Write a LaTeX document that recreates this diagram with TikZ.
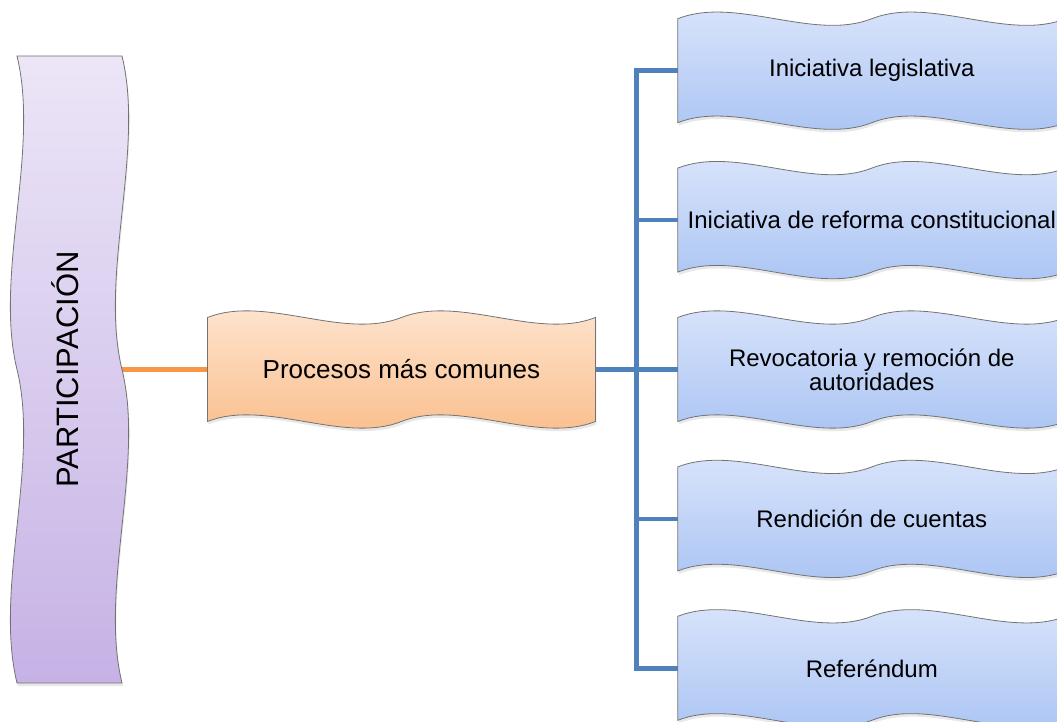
\documentclass[tikz,border=0pt]{standalone}
\usepackage{fontspec}
\setmainfont{Liberation Sans}
\usetikzlibrary{positioning,shadows,calc}

\definecolor{purtop}{HTML}{ECE6F7}
\definecolor{purbot}{HTML}{C6B2E5}
\definecolor{orgtop}{HTML}{FEE7D4}
\definecolor{orgbot}{HTML}{FABC88}
\definecolor{blutop}{HTML}{DCE6FB}
\definecolor{blubot}{HTML}{A7C2F3}
\definecolor{bluline}{HTML}{4F81BD}
\definecolor{orgline}{HTML}{F79646}

\pgfdeclarelayer{linelayer}
\pgfdeclarelayer{wavelayer}
\pgfsetlayers{linelayer,wavelayer,main}

\tikzset{
  wavetext/.style={inner sep=0pt, align=center, text=black},
  partbox/.style={wavetext, minimum width=105pt, minimum height=627pt,
    font=\fontsize{31}{36}\selectfont},
  procbox/.style={wavetext, minimum width=388pt, minimum height=104pt,
    font=\fontsize{26}{30}\selectfont},
  itembox/.style={wavetext, minimum width=388pt, minimum height=104pt,
    font=\fontsize{24}{24}\selectfont},
  waveline/.style={draw=black!55, line width=0.8pt,
    drop shadow={opacity=0.18, shadow xshift=1pt, shadow yshift=-3pt}},
  conn/.style={line width=4.5pt},
}

% horizontal double wave round a node: node, top colour, bottom colour
\newcommand{\hwave}[3]{%
  \begin{scope}[shift={(#1.center)}]
    \path[waveline, top color=#2, bottom color=#3]
      (-194,52) .. controls (-136,75) and (-58,29) .. (0,52)
      .. controls (58,75) and (136,29) .. (194,52)
      -- (194,-52)
      .. controls (136,-75) and (58,-29) .. (0,-52)
      .. controls (-58,-75) and (-136,-29) .. (-194,-52) -- cycle;
  \end{scope}}

% vertical double wave round a node
\newcommand{\vwave}[3]{%
  \begin{scope}[shift={(#1.center)}]
    \path[waveline, top color=#2, bottom color=#3]
      (-52.5,313.5) .. controls (-29.5,219.5) and (-75.5,94) .. (-52.5,0)
      .. controls (-29.5,-94) and (-75.5,-219.5) .. (-52.5,-313.5)
      -- (52.5,-313.5)
      .. controls (29.5,-219.5) and (75.5,-94) .. (52.5,0)
      .. controls (29.5,94) and (75.5,219.5) .. (52.5,313.5) -- cycle;
  \end{scope}}

\begin{document}
\begin{tikzpicture}[x=1pt,y=1pt]

  \useasboundingbox (0,0) rectangle (1057,721);

  % Nodes

  \node[partbox] (part) at (69.5,351.5)
    {\rotatebox{90}{\smash{\raisebox{-8.5pt}{PARTICIPACIÓN}}}} ; %
  \node[procbox, right=of part, right=85pt of part] (proc) {Procesos más comunes} ; %
  \node[itembox, right=of proc, right=82pt of proc] (revoc)
    {Revocatoria y remoción de\\autoridades} ; %
  \node[itembox, above=of revoc, above=45pt of revoc] (reform)
    {Iniciativa de reforma constitucional} ; %
  \node[itembox, above=of reform, above=45pt of reform] (leg)
    {Iniciativa legislativa} ; %
  \node[itembox, below=of revoc, below=45pt of revoc] (rend)
    {Rendición de cuentas} ; %
  \node[itembox, below=of rend, below=45pt of rend] (refer)
    {Referéndum} ; %

  % Shapes

  \begin{pgfonlayer}{wavelayer}
    \vwave{part}{purtop}{purbot}
    \hwave{proc}{orgtop}{orgbot}
    \foreach \n in {leg,reform,revoc,rend,refer}
      {\hwave{\n}{blutop}{blubot}}
  \end{pgfonlayer}

  % Connectors

  \begin{pgfonlayer}{linelayer}
    \coordinate (fork) at ($(proc.east)!0.5!(revoc.west)$) ; %
    \draw[conn, orgline] (part.east) -- (proc.west) ; %
    \draw[conn, bluline] (proc.east) -- (revoc.west) ; %
    \draw[conn, bluline] (leg.west) -| (fork) |- (refer.west) ; %
    \foreach \n in {reform,rend}
      \draw[conn, bluline] (fork) |- (\n.west) ; %
  \end{pgfonlayer}

\end{tikzpicture}
\end{document}
